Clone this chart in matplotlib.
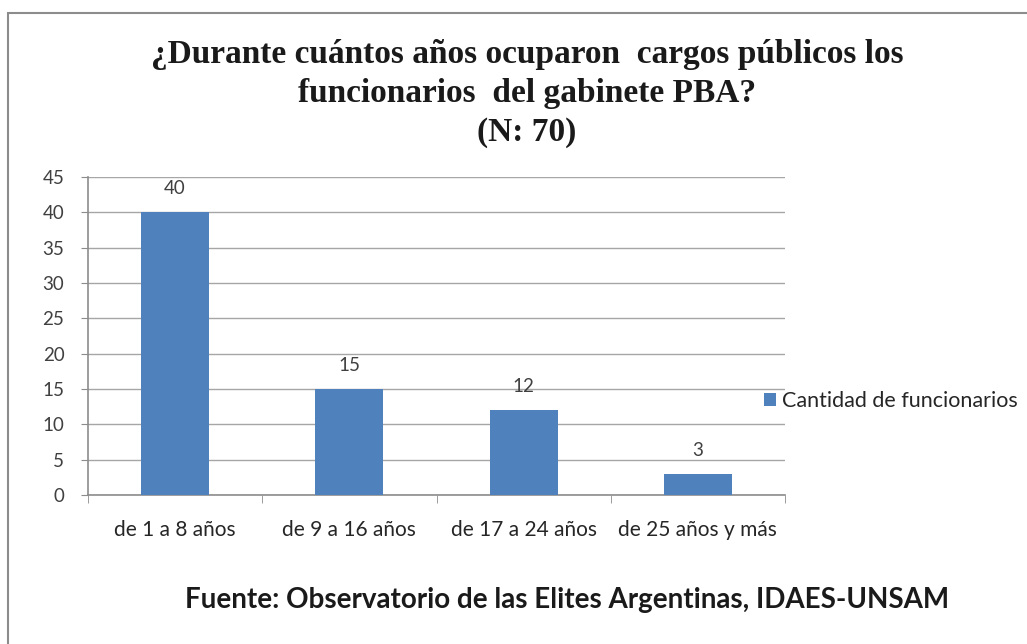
import matplotlib
matplotlib.use("Agg")
import matplotlib.pyplot as plt
from matplotlib.patches import Rectangle

categories = ["de 1 a 8 años", "de 9 a 16 años", "de 17 a 24 años", "de 25 años y más"]
values = [40, 15, 12, 3]
series_name = "Cantidad de funcionarios"
title_lines = ["¿Durante cuántos años ocuparon  cargos públicos los",
               "funcionarios  del gabinete PBA?",
               "(N: 70)"]
source = "Fuente: Observatorio de las Elites Argentinas, IDAES-UNSAM"
yticks = list(range(0, 50, 5))

W, H = 1027, 644
fig = plt.figure(figsize=(W / 100, H / 100), dpi=100)
fig.patch.set_facecolor("white")

# outer border
fig.add_artist(Rectangle((8 / W, -0.01), 1.1, 1 - 13 / H + 0.01, transform=fig.transFigure,
                         fill=False, edgecolor="#8c8c8c", linewidth=1.5))

ax = fig.add_axes([88 / W, 1 - 495 / H, (785 - 88) / W, (495 - 177) / H])
x = list(range(len(categories)))
bar_color = "#4f81bd"
bars = ax.bar(x, values, width=0.39, color=bar_color, label=series_name, zorder=3)

ax.set_xlim(-0.5, len(categories) - 0.5)
ax.set_ylim(0, 45)
ax.set_yticks(yticks)
ax.set_yticklabels([str(t) for t in yticks], fontsize=13.5, color="#404040", family="Lato")
ax.set_xticks(x)
ax.set_xticklabels(categories, fontsize=15, color="#262626", family="Lato")
ax.tick_params(axis="x", length=0, pad=18)
ax.tick_params(axis="y", length=5, color="#8c8c8c", pad=12)
# category boundary ticks
ax.set_xticks([i - 0.5 for i in range(len(categories) + 1)], minor=True)
ax.tick_params(axis="x", which="minor", length=6, color="#8c8c8c", direction="out")

ax.grid(axis="y", color="#a6a6a6", linewidth=1, zorder=0)
for s in ["top", "right"]:
    ax.spines[s].set_visible(False)
for s in ["left", "bottom"]:
    ax.spines[s].set_color("#8c8c8c")
    ax.spines[s].set_linewidth(1.2)

for xi, v in zip(x, values):
    ax.annotate(str(v), (xi, v), xytext=(0, 11), textcoords="offset points",
                ha="center", va="bottom", fontsize=13.5, color="#404040", family="Lato")

leg = fig.legend(handles=[bars], labels=[series_name], loc="center left",
                 bbox_to_anchor=(753 / W, 1 - 401 / H), frameon=False,
                 prop={"family": "Lato", "size": 15.5}, handlelength=0.55,
                 handleheight=0.55, handletextpad=0.3, borderpad=0)
for t in leg.get_texts():
    t.set_color("#262626")

for line, ypx in zip(title_lines, [63, 102, 141]):
    fig.text(527 / W, 1 - ypx / H, line, ha="center", va="baseline", fontsize=24,
             fontweight="bold", family="Liberation Serif", color="#1a1a1a")

fig.text(567 / W, 1 - 600 / H, source, ha="center", va="center", fontsize=20,
         fontweight="bold", family="Lato", color="#1a1a1a")

fig.savefig("out.png", dpi=100, facecolor="white")
